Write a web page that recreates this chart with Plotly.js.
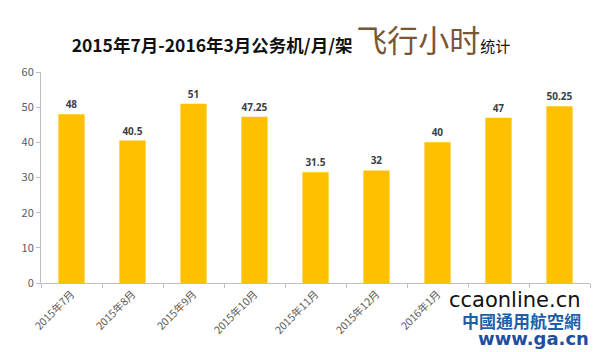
<!DOCTYPE html>
<html><head><meta charset="utf-8">
<script src="https://cdn.plot.ly/plotly-3.0.1.min.js"></script>
<style>html,body{margin:0;padding:0;background:#fff}</style>
</head><body>
<div id="chart" style="width:600px;height:352px"></div>
<script>
var categories = ["2015年7月","2015年8月","2015年9月","2015年10月","2015年11月","2015年12月","2016年1月","2016年2月","2016年3月"];
var hours = [48, 40.5, 51, 47.25, 31.5, 32, 40, 47, 50.25];
var labels = ["48","40.5","51","47.25","31.5","32","40","47","50.25"];
var yTicks = [0,10,20,30,40,50,60];

var trace = {
  type: "bar",
  x: categories,
  y: hours,
  text: labels,
  textposition: "outside",
  cliponaxis: false,
  textfont: {family: "Noto Sans, sans-serif", size: 10, color: "#3a3f4a", weight: "bold"},
  marker: {color: "#FFC000", line: {width: 0}},
  hoverinfo: "none"
};

var layout = {
  width: 600, height: 352,
  margin: {l: 41, r: 10, t: 72, b: 69},
  paper_bgcolor: "#fff", plot_bgcolor: "#fff",
  bargap: 0.57,
  showlegend: false,
  font: {family: "Noto Sans CJK SC, sans-serif", color: "#404040"},
  title: {
    text: "<b>2015年7月-2016年3月公务机/月/架</b> <span style=\"font-size:31px;color:#7a5634\">飞行小时</span><span style=\"font-size:15px\">统计</span>",
    font: {family: "Noto Sans CJK SC, sans-serif", size: 17.5, color: "#111"},
    x: 0.485, xanchor: "center", y: 0.87, yanchor: "middle"
  },
  xaxis: {
    type: "category",
    tickangle: -45,
    tickfont: {size: 10.5, color: "#595959"},
    showline: true, linecolor: "#bfbfbf", linewidth: 1,
    ticks: "outside", tickson: "boundaries", ticklen: 4, tickcolor: "#bfbfbf",
    showgrid: false, zeroline: false
  },
  yaxis: {
    range: [0, 60],
    tickvals: yTicks,
    tickfont: {size: 11, color: "#595959"},
    showline: true, linecolor: "#bfbfbf", linewidth: 1,
    ticks: "outside", ticklen: 4, tickcolor: "#bfbfbf",
    showgrid: false, zeroline: false
  },
  annotations: [
    {text: "ccaonline.cn", xref: "paper", yref: "paper", x: 0.985, y: -0.08, xanchor: "right", yanchor: "middle", showarrow: false,
     bgcolor: "#ffffff", borderpad: 0,
     font: {family: "DejaVu Sans, sans-serif", size: 21, color: "#111"}},
    {text: "<b>www.ga.cn</b>", xref: "paper", yref: "paper", x: 1.0, y: -0.265, xanchor: "right", yanchor: "middle", showarrow: false,
     bgcolor: "#ffffff", borderpad: 0,
     font: {family: "DejaVu Sans, sans-serif", size: 18, color: "#1f4ea0"}},
    {text: "<b>中國通用航空網</b>", xref: "paper", yref: "paper", x: 0.985, y: -0.18, xanchor: "right", yanchor: "middle", showarrow: false,
     bgcolor: "#ffffff", borderpad: 0,
     font: {family: "Noto Sans CJK TC, sans-serif", size: 17, color: "#1f5fa8"}}
  ]
};

Plotly.newPlot("chart", [trace], layout, {displayModeBar: false, staticPlot: true});
</script>
</body></html>
